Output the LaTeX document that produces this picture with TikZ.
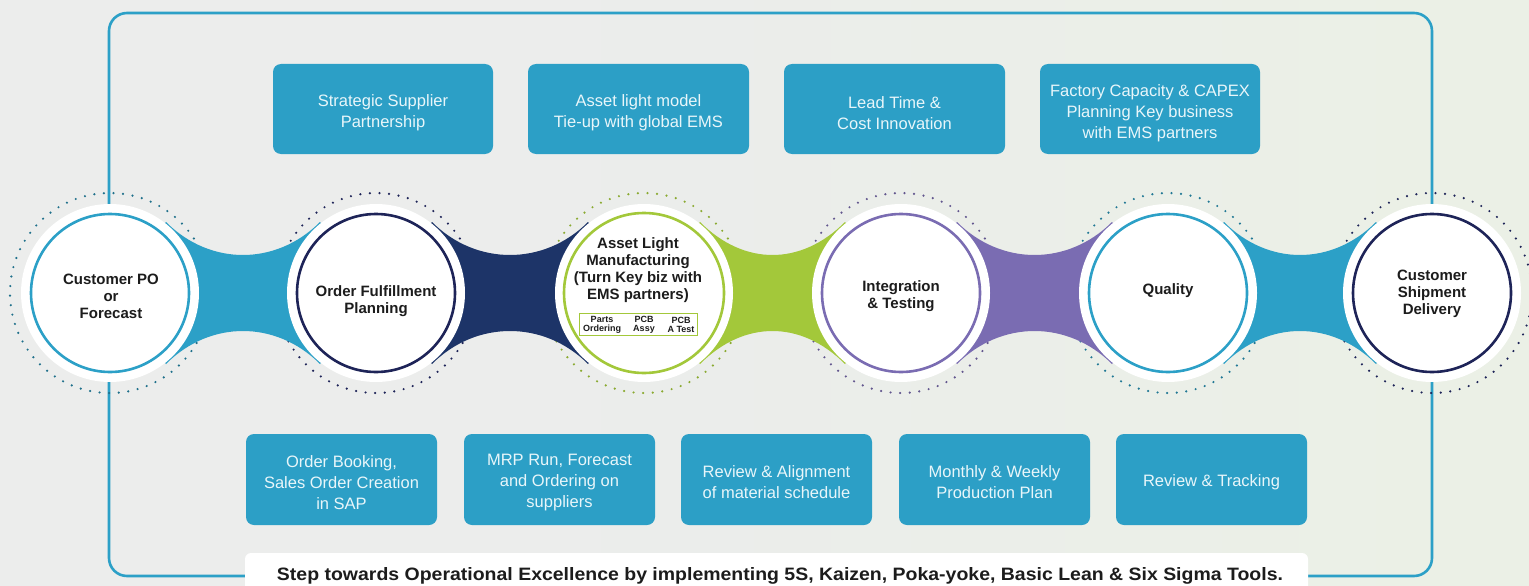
\documentclass[tikz,border=0pt]{standalone}
\usepackage{fontspec}
\setmainfont{Liberation Sans}
\usetikzlibrary{calc,fadings}
\definecolor{bgl}{RGB}{236,237,236}
\definecolor{bgr}{RGB}{235,241,230}
\definecolor{cblue}{RGB}{44,160,199}
\definecolor{bandnavy}{RGB}{29,52,104}
\definecolor{ringnavy}{RGB}{30,36,88}
\definecolor{cgreen}{RGB}{163,200,58}
\definecolor{cpurple}{RGB}{122,108,178}
\definecolor{boxblue}{RGB}{44,159,198}
\definecolor{boxtext}{RGB}{232,246,250}
\definecolor{ink}{RGB}{28,28,28}
\newcommand\mkband[3]{%
  \fill[#3] (#1) -- ($(#1)+(56,-71)$) .. controls ($(#1)+(100,-27)$) and ($(#2)+(-100,-27)$) .. ($(#2)+(-56,-71)$)
    -- (#2) -- ($(#2)+(-56,71)$) .. controls ($(#2)+(-100,27)$) and ($(#1)+(100,27)$) .. ($(#1)+(56,71)$) -- cycle;}
\begin{document}
\begin{tikzpicture}[x=1pt,y=-1pt,
  tbox/.style={fill=boxblue, rounded corners=8pt, inner sep=0, minimum height=90pt},
  ttext/.style={text=boxtext, align=center, font=\fontsize{16.5}{21}\selectfont, inner sep=0},
  disk/.style={circle, fill=white, minimum size=178pt, inner sep=0},
  ring/.style={line width=2.6pt},
  dots/.style={line width=2.4pt, line cap=round, dash pattern=on 0pt off 9.6pt},
  ctext/.style={align=center, font=\bfseries\fontsize{15}{17}\selectfont, text=ink, inner sep=0},
  stext/.style={align=center, font=\bfseries\fontsize{9}{8.5}\selectfont, text=ink, inner sep=0}
]
\useasboundingbox (0,0) rectangle (1529,586);
\clip (0,0) rectangle (1529,586);
\fill[bgl] (0,0) rectangle (1529,586);
\fill[bgr, path fading=west] (600,0) rectangle (1529,586);

% outer frame
\draw[cblue, line width=2.6pt, rounded corners=18pt] (109,13) rectangle (1432,576);

% centres
\coordinate (p1) at (110,293);
\coordinate (p2) at (376,293);
\coordinate (p3) at (644,293);
\coordinate (p4) at (901,293);
\coordinate (p5) at (1168,293);
\coordinate (p6) at (1432,293);

% dotted halos
\draw[dots, cblue!70!black] (p1) circle[radius=100pt];
\draw[dots, ringnavy] (p2) circle[radius=100pt];
\draw[dots, cgreen!85!black] (p3) circle[radius=100pt];
\draw[dots, cpurple!80!black] (p4) circle[radius=100pt];
\draw[dots, cblue!75!black] (p5) circle[radius=100pt];
\draw[dots, ringnavy] (p6) circle[radius=100pt];

% bands
\mkband{p1}{p2}{cblue}
\mkband{p2}{p3}{bandnavy}
\mkband{p3}{p4}{cgreen}
\mkband{p4}{p5}{cpurple}
\mkband{p5}{p6}{cblue}

% disks and rings
\node[disk] (c1) at (p1) {};
\node[disk] (c2) at (p2) {};
\node[disk] (c3) at (p3) {};
\node[disk] (c4) at (p4) {};
\node[disk] (c5) at (p5) {};
\node[disk] (c6) at (p6) {};
\draw[ring, cblue] (c1.center) circle[radius=79pt];
\draw[ring, ringnavy] (c2.center) circle[radius=79pt];
\draw[ring, cgreen] (c3.center) circle[radius=80pt];
\draw[ring, cpurple] (c4.center) circle[radius=79pt];
\draw[ring, cblue] (c5.center) circle[radius=79pt];
\draw[ring, ringnavy] (c6.center) circle[radius=79pt];

% circle texts
\node[ctext] (t1) at (111,296) {Customer PO\\or\\Forecast};
\node[ctext] (t2) at (376,301) {Order Fulfillment\\Planning};
\node[ctext] (t3) at (638,270) {Asset Light\\Manufacturing\\(Turn Key biz with\\EMS partners)};
\node[ctext] (t4) at (901,296) {Integration\\\& Testing};
\node[ctext] (t5) at (1168,291) {Quality};
\node[ctext] (t6) at (1432,294) {Customer\\Shipment\\Delivery};

% small step box
\node[draw=cgreen, line width=0.8pt, minimum width=118pt, minimum height=22pt, inner sep=0] (sb) at (638,324) {};
\node[stext] (s1) at (602,325) {Parts\\Ordering};
\node[stext] (s2) at (644,325) {PCB\\Assy};
\node[stext] (s3) at (681,325) {PCB\\A Test};

% top boxes
\node[tbox, minimum width=220pt] (a1) at (383,109) {};
\node[tbox, minimum width=221pt] (a2) at (638.5,109) {};
\node[tbox, minimum width=221pt] (a3) at (894.5,109) {};
\node[tbox, minimum width=220pt] (a4) at (1150,109) {};
\node[ttext] (at1) at ($(a1.center)+(0,4)$) {Strategic Supplier\\Partnership};
\node[ttext] (at2) at ($(a2.center)+(0,4)$) {Asset light model\\Tie-up with global EMS};
\node[ttext] (at3) at ($(a3.center)+(0,4)$) {Lead Time \&\\Cost Innovation};
\node[ttext] (at4) at ($(a4.center)+(0,4)$) {Factory Capacity \& CAPEX\\Planning Key business\\with EMS partners};

% bottom boxes
\node[tbox, minimum width=191pt, minimum height=91pt] (b1) at (341.5,479.5) {};
\node[tbox, minimum width=191pt, minimum height=91pt] (b2) at (559.5,479.5) {};
\node[tbox, minimum width=191pt, minimum height=91pt] (b3) at (776.5,479.5) {};
\node[tbox, minimum width=191pt, minimum height=91pt] (b4) at (994.5,479.5) {};
\node[tbox, minimum width=191pt, minimum height=91pt] (b5) at (1211.5,479.5) {};
\node[ttext] (bt1) at ($(b1.center)+(0,3)$) {Order Booking,\\Sales Order Creation\\in SAP};
\node[ttext] (bt2) at ($(b2.center)+(0,3)$) {MRP Run, Forecast\\and Ordering on\\suppliers};
\node[ttext] (bt3) at ($(b3.center)+(0,3)$) {Review \& Alignment\\of material schedule};
\node[ttext] (bt4) at ($(b4.center)+(0,3)$) {Monthly \& Weekly\\Production Plan};
\node[ttext] (bt5) at ($(b5.center)+(0,3)$) {Review \& Tracking};

% bottom label
\fill[white, rounded corners=6pt] (245,553) rectangle (1308,600);
\node[anchor=base, inner sep=0, text=ink] (lab) at (780,580)
  {\resizebox{1006pt}{13pt}{\bfseries Step towards Operational Excellence by implementing 5S, Kaizen, Poka-yoke, Basic Lean \& Six Sigma Tools.}};
\end{tikzpicture}
\end{document}
